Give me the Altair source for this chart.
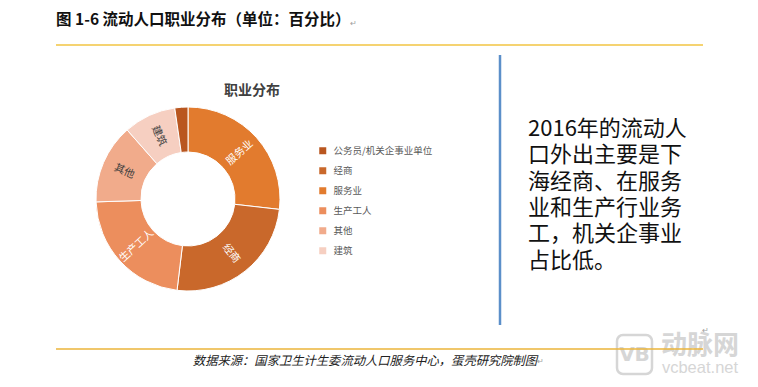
import altair as alt
import pandas as pd

# ---- data ----
categories = ["服务业", "经商", "生产工人", "其他", "建筑", "公务员/机关企事业单位"]
values = [26.8, 25.1, 22.6, 14.0, 9.2, 2.3]
slice_labels = ["服务业", "经商", "生产工人", "其他", "建筑", ""]
legend_order = ["公务员/机关企事业单位", "经商", "服务业", "生产工人", "其他", "建筑"]
legend_colors = ["#B9561F", "#C9682B", "#E27B2E", "#EC8E5D", "#F1AB8B", "#F6CFC1"]
dark_label = [False, False, False, True, True, False]

title_text = "图 1-6 流动人口职业分布（单位：百分比）"
chart_title = "职业分布"
side_text = "2016年的流动人\n口外出主要是下\n海经商、在服务\n业和生产行业务\n工，机关企事业\n占比低。"
source_text = "数据来源：国家卫生计生委流动人口服务中心，蛋壳研究院制图"

FONT = "Noto Sans CJK SC"

# derived table: stacking order and radial label rotation from the values
total = sum(values)
rows = []
cum = 0.0
for i, (c, v) in enumerate(zip(categories, values)):
    mid = (cum + v / 2) / total * 360.0
    cum += v
    r = mid - 90.0
    if 90.0 < r < 270.0:
        r -= 180.0
    r = r % 360.0
    rows.append({"cat": c, "value": v, "ord": i, "label": slice_labels[i],
                 "rot": r, "dark": dark_label[i]})
df = pd.DataFrame(rows)

one = pd.DataFrame({"k": [0]})

CX, CY = 180, 191

base = alt.Chart(df).encode(
    theta=alt.Theta("value:Q", stack=True),
    order=alt.Order("ord:Q"),
    x=alt.value(CX),
    y=alt.value(CY),
)

arcs = base.mark_arc(innerRadius=47, outerRadius=92, stroke="#ffffff", strokeWidth=1).encode(
    color=alt.Color(
        "cat:N",
        scale=alt.Scale(domain=legend_order, range=legend_colors),
        legend=alt.Legend(
            title=None, orient="none", legendX=310, legendY=138,
            symbolType="square", symbolSize=49, symbolStrokeWidth=0,
            labelFont=FONT, labelFontSize=9.5, labelColor="#595959",
            labelOffset=6, rowPadding=9, padding=0,
        ),
    ),
)

labels = base.mark_text(radius=69.5, font=FONT, fontSize=10.5, baseline="middle", align="center").encode(
    text="label:N",
    angle=alt.Angle("rot:Q", scale=None),
    color=alt.condition("datum.dark", alt.value("#404040"), alt.value("#ffffff")),
)


def note(txt, x, y, **kw):
    return alt.Chart(one).mark_text(text=txt, **kw).encode(x=alt.value(x), y=alt.value(y))


def rule(x, x2, y, y2, color, w):
    return alt.Chart(one).mark_rule(color=color, strokeWidth=w).encode(
        x=alt.value(x), x2=alt.value(x2), y=alt.value(y), y2=alt.value(y2))


title = note(title_text, 48, 12, font=FONT, fontSize=15.5, fontWeight="bold",
             color="#111111", align="left", baseline="middle")
title_mark = note("↵", 342, 16, fontSize=8, color="#a0a0a0", align="left", baseline="middle")
top_line = rule(48, 695, 37, 37, "#F2C542", 1.5)

donut_title = note(chart_title, 244, 83, font=FONT, fontSize=14, fontWeight="bold",
                   color="#404040", align="center", baseline="middle")

blue_line = rule(492, 492, 47, 317, "#5B8FC9", 2.5)

side = note(side_text, 520, 111, font=FONT, fontSize=22, lineHeight=26.3,
            color="#111111", align="left", baseline="top", lineBreak="\n")

# watermark
wm_box = alt.Chart(one).mark_rect(fill="#ffffff", fillOpacity=0, stroke="#d6d6d6",
                                  strokeWidth=2.5, cornerRadius=6).encode(
    x=alt.value(609), x2=alt.value(644), y=alt.value(327), y2=alt.value(366))
wm_vb = note("VB", 626.5, 347, font="DejaVu Sans", fontSize=20, fontWeight="bold",
             color="#d6d6d6", align="center", baseline="middle")
wm_cn = note("动脉网", 692, 337.5, font=FONT, fontSize=26, fontWeight="bold",
             color="#d6d6d6", align="center", baseline="middle")
wm_en = note("vcbeat.net", 692, 360, font="Liberation Sans", fontSize=16.5,
             color="#d6d6d6", align="center", baseline="middle")

para_mark = note("↵", 694, 323, fontSize=8, color="#a0a0a0", align="left", baseline="middle")
bottom_line = rule(48, 695, 341, 341, "#EBB53A", 1.5)

source = note(source_text, 357, 353, font=FONT, fontSize=12.3, fontStyle="italic",
              color="#222222", align="center", baseline="middle")
source_mark = note("↵", 529, 354, fontSize=8, color="#a0a0a0", align="left", baseline="middle")

chart = alt.layer(
    wm_box, wm_vb, wm_cn, wm_en,
    arcs, labels,
    title, title_mark, top_line, donut_title, blue_line, side,
    para_mark, bottom_line, source, source_mark,
).properties(
    width=742, height=371,
    autosize=alt.AutoSizeParams(type="none"),
    padding=0,
    background="#ffffff",
).configure_view(stroke=None)

chart.save("out.html", embed_options={"renderer": "svg", "actions": False})
